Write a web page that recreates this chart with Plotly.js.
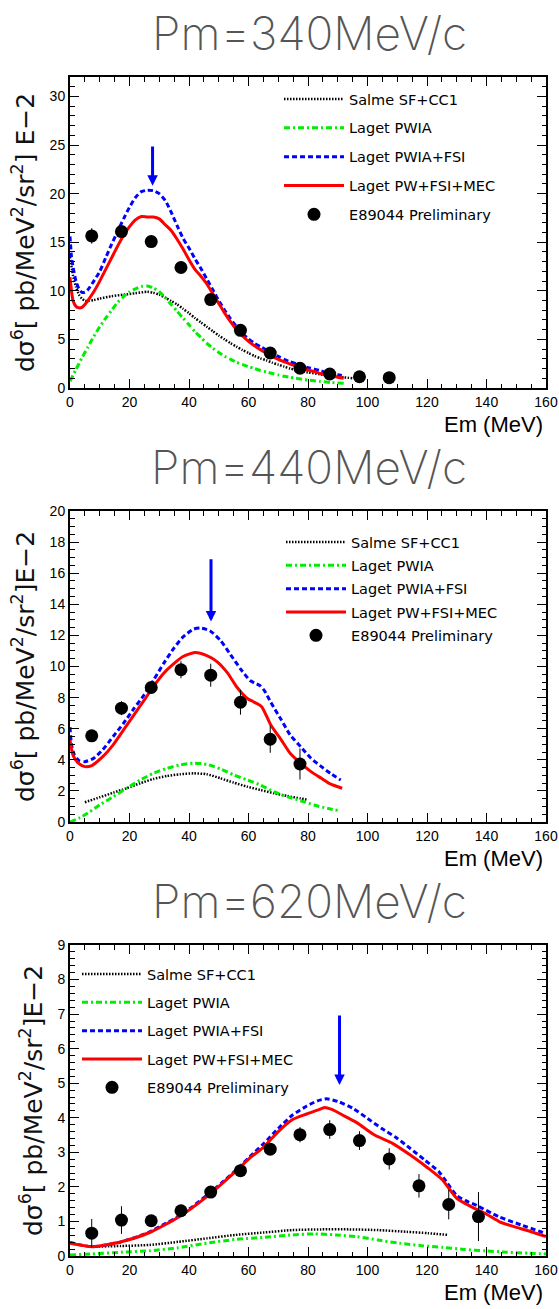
<!DOCTYPE html>
<html>
<head>
<meta charset="utf-8">
<script src="https://cdn.plot.ly/plotly-3.0.1.min.js"></script>
<style>html,body{margin:0;padding:0;background:#fff;}#chart{width:559px;height:1309px;}</style>
</head>
<body>
<div id="chart"></div>
<script>
// ---------- Panel 1 : Pm = 340 MeV/c ----------
const p1Title = "Pm=340MeV/c";
const p1SalmeX = [0,1,2,3,4,5,6,8,10,14,18,22,26,28,30,32,34,36,38,40,42,44,46,48,50,52,54,56,58,60,62,64,66,68,70,72,74,76,78,80,84,88,92,95];
const p1SalmeY = [13.5,11.6,10.4,9.6,9.2,9.0,8.95,9.05,9.2,9.45,9.6,9.75,9.9,9.8,9.6,9.3,8.95,8.6,8.15,7.7,7.2,6.75,6.3,5.85,5.4,5.0,4.6,4.25,3.9,3.6,3.3,3.05,2.85,2.6,2.4,2.2,2.0,1.85,1.7,1.6,1.4,1.2,1.1,1.0];
const p1PwiaX = [0,2,4,6,8,10,12,14,16,18,20,22,24,26,28,30,32,34,36,38,40,42,44,46,48,50,52,54,56,58,60,62,64,66,68,70,72,74,76,78,80,84,88,92];
const p1PwiaY = [0.7,1.9,3.1,4.2,5.3,6.3,7.2,8.0,8.8,9.4,9.9,10.2,10.45,10.5,10.3,9.9,9.3,8.6,7.9,7.2,6.5,5.8,5.2,4.6,4.1,3.65,3.25,2.95,2.65,2.4,2.2,2.0,1.8,1.65,1.5,1.35,1.2,1.1,1.0,0.9,0.82,0.68,0.56,0.48];
const p1FsiX = [0,0.5,1,2,3,4,5,6,8,10,12,14,16,18,20,22,24,26,28,30,32,34,36,38,40,42,44,46,48,50,52,54,56,58,60,62,64,66,68,70,72,74,76,78,80,82,84,86,88,90,92];
const p1FsiY = [15.6,13.5,12.5,11.0,10.2,9.85,9.85,10.1,11.0,12.0,13.4,14.8,16.1,17.4,18.6,19.6,20.2,20.35,20.3,20.0,19.3,18.1,16.7,15.4,14.4,13.3,12.3,11.2,10.1,9.0,8.0,7.1,6.3,5.6,5.05,4.6,4.25,3.95,3.6,3.25,2.95,2.7,2.5,2.3,2.1,1.95,1.8,1.6,1.48,1.36,1.25];
const p1MecX = [0,0.5,1,2,3,4,5,6,8,10,12,14,16,18,20,22,24,26,28,30,32,34,36,38,40,42,44,46,48,50,52,54,56,58,60,62,64,66,68,70,72,74,76,78,80,82,84,86,88,90,92];
const p1MecY = [11.4,10.0,9.0,8.4,8.25,8.3,8.6,9.0,9.9,11.0,12.2,13.4,14.6,15.7,16.6,17.3,17.65,17.6,17.6,17.4,16.8,16.2,15.3,14.3,13.2,12.2,11.5,10.7,9.7,8.7,7.7,6.8,6.0,5.35,4.8,4.35,3.95,3.6,3.25,2.95,2.7,2.45,2.25,2.05,1.85,1.7,1.5,1.35,1.22,1.1,1.0];
const p1DataX = [7.3,17.3,27.3,37.3,47.3,57.3,67.3,77.3,87.3,97.3,107.3];
const p1DataY = [15.65,16.1,15.07,12.4,9.1,5.93,3.6,2.03,1.44,1.16,1.06];
const p1DataErr = [0.8,0.5,0.4,0.4,0.4,0.3,0.3,0.2,0.2,0.2,0.2];
const p1Arrow = {x: 27.75, yTop: 25.0, yTip: 20.8};

// ---------- Panel 2 : Pm = 440 MeV/c ----------
const p2Title = "Pm=440MeV/c";
const p2SalmeX = [5,10,14.6,19,23.6,28,32.6,37,41.6,46,50.6,55,59.6,64,68.5,73,77.5,80];
const p2SalmeY = [1.27,1.59,1.89,2.17,2.49,2.77,2.96,3.07,3.13,3.07,2.81,2.53,2.27,2.06,1.85,1.67,1.52,1.42];
const p2PwiaX = [0,3.4,6.7,10,14.6,19,23.6,28,32.6,37,41.6,46,50.6,55,59.6,64,68.5,73,77.5,82,86.5,90.5];
const p2PwiaY = [0,0.28,0.67,1.1,1.63,2.17,2.7,3.13,3.45,3.67,3.78,3.71,3.41,3.03,2.7,2.38,1.95,1.63,1.37,1.09,0.88,0.73];
const p2FsiX = [0,0.5,1.5,3,5,8,11,14.5,18,21.5,25,28,31.5,35,38,41.5,44,47,50.5,54,57.5,60.5,62,64,65.5,67.5,71,74,77.5,81,84.5,87.5,91];
const p2FsiY = [6.1,5.0,4.3,3.95,3.88,4.1,4.65,5.5,6.35,7.3,8.2,9.1,10.2,11.2,11.9,12.4,12.47,12.3,11.7,10.75,9.8,9.1,8.95,8.75,8.4,7.7,6.57,5.6,4.85,4.1,3.56,3.13,2.7];
const p2MecX = [0,1,2.8,5,7.3,11,14.5,18,21.5,25,28,31.5,35,38,42,46,49.5,53,56,59.5,61.5,63,64.5,67.5,71,74,77.5,81,84.5,87.5,91.5];
const p2MecY = [5.28,4.3,3.78,3.56,3.63,4.2,4.96,5.92,6.89,7.85,8.7,9.57,10.2,10.64,10.9,10.7,10.3,9.57,8.7,7.96,7.75,7.6,7.4,6.24,5.28,4.42,3.78,3.24,2.81,2.45,2.17];
const p2DataX = [7.3,17.3,27.3,37.3,47.3,57.3,67.3,77.3];
const p2DataY = [5.54,7.32,8.65,9.79,9.44,7.7,5.32,3.73];
const p2DataErr = [0.3,0.45,0.35,0.55,0.74,0.8,0.87,1.0];
const p2Arrow = {x: 47.4, yTop: 17.0, yTip: 12.9};

// ---------- Panel 3 : Pm = 620 MeV/c ----------
const p3Title = "Pm=620MeV/c";
const p3SalmeX = [7.6,17.2,26.8,36.4,46,55.6,65.2,74.8,84.4,94,103.6,113.2,120.4,127];
const p3SalmeY = [0.27,0.29,0.32,0.41,0.51,0.61,0.68,0.75,0.77,0.77,0.75,0.70,0.66,0.61];
const p3PwiaX = [0,7.6,17.2,26.8,36.4,46,55.6,65.2,74.8,82,89.2,96.4,103.6,110.8,118,125.2,132.4,139.6,146.8,154,160];
const p3PwiaY = [0.03,0.06,0.11,0.15,0.24,0.37,0.48,0.54,0.61,0.64,0.61,0.56,0.46,0.37,0.3,0.25,0.19,0.15,0.11,0.08,0.06];
const p3FsiX = [0,4,7.6,12.4,17.2,22,26.8,31.6,36.4,41.2,46,50.8,55.6,60.4,65.2,70,74.8,79.6,83.2,86.2,90.4,95.2,100,104.8,109.6,114.4,119.2,124,126.5,130,133,137,144,151.6,160];
const p3FsiY = [0.39,0.31,0.27,0.32,0.41,0.54,0.7,0.92,1.14,1.43,1.76,2.1,2.47,2.87,3.26,3.69,4.08,4.34,4.49,4.55,4.46,4.27,3.98,3.69,3.43,3.11,2.78,2.44,2.15,1.75,1.6,1.45,1.14,0.9,0.65];
const p3MecX = [0,7.6,17.2,26.8,36.4,46,55.6,60.4,65.2,70,74.8,79.6,83.2,85.6,88,91.6,96.4,102.4,108.4,114.4,120.4,125.2,130,134.8,139.6,144.4,149.2,154,160];
const p3MecY = [0.37,0.27,0.41,0.68,1.12,1.72,2.44,2.83,3.16,3.6,3.95,4.11,4.22,4.3,4.24,4.08,3.86,3.5,3.26,2.92,2.54,2.2,1.67,1.43,1.23,0.99,0.85,0.73,0.56];
const p3DataX = [7.3,17.3,27.3,37.3,47.3,57.3,67.3,77.3,87.3,97.3,107.3,117.3,127.3,137.3];
const p3DataY = [0.66,1.04,1.02,1.31,1.85,2.47,3.09,3.51,3.66,3.34,2.81,2.03,1.49,1.14];
const p3DataErr = [0.41,0.4,0.1,0.12,0.12,0.15,0.15,0.22,0.27,0.27,0.31,0.34,0.43,0.71];
const p3Arrow = {x: 90.6, yTop: 7.0, yTip: 4.95};

// ---------- shared labels ----------
const seriesNames = ["Salme SF+CC1", "Laget PWIA", "Laget PWIA+FSI", "Laget PW+FSI+MEC", "E89044 Preliminary"];
const xTitle = "Em (MeV)";
const yTitle1 = "dσ<sup>6</sup>[ pb/MeV<sup>2</sup>/sr<sup>2</sup>] E−2";
const yTitle23 = "dσ<sup>6</sup>[ pb/MeV<sup>2</sup>/sr<sup>2</sup>]E−2";
const xRange = [0, 160];
const yRanges = [[0, 32], [0, 20], [0, 9]];
const yDticks = [5, 2, 1];
const yMinor = [1, 0.5, 0.2];

// ---------- build ----------
const styles = [
  {color: "#000000", width: 2.5, dash: "1.5px,1.5px"},
  {color: "#00ee00", width: 3, dash: "6px,3px,2px,3px"},
  {color: "#0000ff", width: 3, dash: "5px,3px"},
  {color: "#ff0000", width: 3, dash: "solid"}
];
const panels = [
  {curves: [[p1SalmeX,p1SalmeY],[p1PwiaX,p1PwiaY],[p1FsiX,p1FsiY],[p1MecX,p1MecY]], dx: p1DataX, dy: p1DataY, de: p1DataErr},
  {curves: [[p2SalmeX,p2SalmeY],[p2PwiaX,p2PwiaY],[p2FsiX,p2FsiY],[p2MecX,p2MecY]], dx: p2DataX, dy: p2DataY, de: p2DataErr},
  {curves: [[p3SalmeX,p3SalmeY],[p3PwiaX,p3PwiaY],[p3FsiX,p3FsiY],[p3MecX,p3MecY]], dx: p3DataX, dy: p3DataY, de: p3DataErr}
];
const traces = [];
panels.forEach((p, i) => {
  const sfx = i === 0 ? "" : String(i + 1);
  const leg = "legend" + sfx;
  p.curves.forEach((c, k) => {
    traces.push({
      type: "scatter", mode: "lines", x: c[0], y: c[1],
      xaxis: "x" + sfx, yaxis: "y" + sfx, name: seriesNames[k],
      legend: leg, legendgroup: "g" + i + "_" + k,
      line: {color: styles[k].color, width: styles[k].width, dash: styles[k].dash, shape: "spline", smoothing: 0.6},
      hoverinfo: "skip"
    });
  });
  traces.push({
    type: "scatter", mode: "markers", x: p.dx, y: p.dy,
    xaxis: "x" + sfx, yaxis: "y" + sfx, name: seriesNames[4],
    legend: leg, legendgroup: "g" + i + "_4",
    marker: {color: "#000", size: 13, line: {width: 0}},
    error_y: {type: "data", array: p.de, visible: true, color: "#000", thickness: 1, width: 0},
    hoverinfo: "skip"
  });
});

const W = 559, H = 1309;
const px = v => v / W;
const py = v => 1 - v / H;
const frameTop = [77, 511, 945];
const frameBot = [388, 822, 1256];
const tickFont = {family: "Liberation Sans, Arial, sans-serif", size: 14, color: "#000"};
const layout = {
  width: W, height: H,
  margin: {l: 0, r: 0, t: 0, b: 0},
  paper_bgcolor: "#fff", plot_bgcolor: "#fff",
  showlegend: true,
  annotations: []
};
const titles = [p1Title, p2Title, p3Title];
const arrows = [p1Arrow, p2Arrow, p3Arrow];
const legendPos = [{x: 279, y: 83, gap: 7}, {x: 281, y: 526, gap: 1.5}, {x: 77, y: 958, gap: 6.5}];
for (let i = 0; i < 3; i++) {
  const sfx = i === 0 ? "" : String(i + 1);
  layout["xaxis" + sfx] = {
    domain: [px(70), px(546)], anchor: "y" + sfx, range: xRange, dtick: 20, tick0: 0,
    ticks: "inside", ticklen: 9, tickwidth: 1, tickcolor: "#000",
    minor: {dtick: 5, ticks: "inside", ticklen: 4.5, tickcolor: "#000", tickwidth: 1},
    showline: true, linewidth: 2, linecolor: "#000", mirror: "ticks",
    showgrid: false, zeroline: false, tickfont: tickFont, fixedrange: true
  };
  layout["yaxis" + sfx] = {
    domain: [py(frameBot[i]), py(frameTop[i])], anchor: "x" + sfx, range: yRanges[i],
    dtick: yDticks[i], tick0: 0,
    ticks: "inside", ticklen: 9, tickwidth: 1, tickcolor: "#000",
    minor: {dtick: yMinor[i], ticks: "inside", ticklen: 4.5, tickcolor: "#000", tickwidth: 1},
    showline: true, linewidth: 2, linecolor: "#000", mirror: "ticks",
    showgrid: false, zeroline: false, tickfont: tickFont, fixedrange: true,
    title: {text: i === 0 ? yTitle1 : yTitle23, font: {family: "DejaVu Sans, sans-serif", size: 25, color: "#111"}, standoff: 8}
  };
  layout["legend" + sfx] = {
    x: px(legendPos[i].x), y: py(legendPos[i].y), xanchor: "left", yanchor: "top",
    xref: "paper", yref: "paper",
    bgcolor: "rgba(0,0,0,0)", borderwidth: 0, itemwidth: 60,
    tracegroupgap: legendPos[i].gap,
    font: {family: "DejaVu Sans, sans-serif", size: 14.5, color: "#000"}
  };
  layout.annotations.push({
    xref: "paper", yref: "paper", x: px(309), y: py(frameTop[i] - 44),
    xanchor: "center", yanchor: "middle", showarrow: false, text: titles[i],
    font: {family: "Inter, DejaVu Sans, sans-serif", size: 46, color: "#555", weight: 200}
  });
  layout.annotations.push({
    xref: "paper", yref: "paper", x: px(545), y: py(frameBot[i] + 36.5),
    xanchor: "right", yanchor: "middle", showarrow: false, text: xTitle,
    font: {family: "Liberation Sans, Arial, sans-serif", size: 22, color: "#000"}
  });
  layout.annotations.push({
    xref: "x" + sfx, yref: "y" + sfx, axref: "x" + sfx, ayref: "y" + sfx,
    x: arrows[i].x, y: arrows[i].yTip, ax: arrows[i].x, ay: arrows[i].yTop,
    text: "", showarrow: true, arrowhead: 2, arrowsize: 0.7, arrowwidth: 3,
    arrowcolor: "#0000ff", standoff: 0
  });
}
Plotly.newPlot("chart", traces, layout, {staticPlot: true, displayModeBar: false});
</script>
</body>
</html>
